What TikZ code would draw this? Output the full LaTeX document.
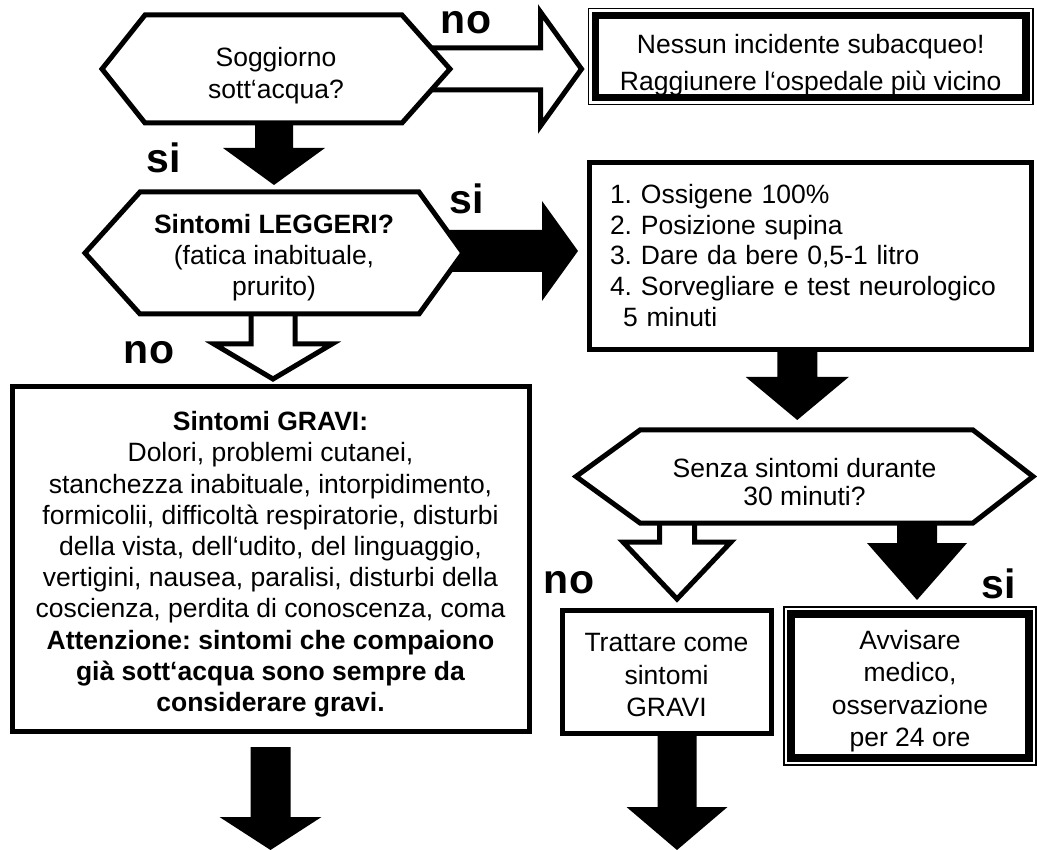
\documentclass[tikz,border=0pt]{standalone}
\usepackage{fontspec}
\setmainfont{Liberation Sans}
\usetikzlibrary{calc}
\pgfdeclarelayer{arrows}
\pgfdeclarelayer{shapes}
\pgfsetlayers{arrows,shapes,main}

% struts for the first and the last line of a node text
\newcommand{\topst}[1]{\rule{0pt}{#1}}
\newcommand{\botst}[1]{\rule[-#1]{0pt}{#1}}
% hexagon round a node: #2 left and #3 right slant
\newcommand{\hexa}[3]{\draw[hexline] (#1.west) -- ([xshift=#2]#1.north west) -- ([xshift=-#3]#1.north east) -- (#1.east) -- ([xshift=-#3]#1.south east) -- ([xshift=#2]#1.south west) -- cycle;}
% block arrows: style, from, to, half shaft, half head, head length
\newcommand{\blockdown}[6]{\path[#1] let \p1=(#2), \p2=(#3) in (\x1-#4,\y1) -- (\x1-#4,\y2+#6) -- (\x1-#5,\y2+#6) -- (\x1,\y2) -- (\x1+#5,\y2+#6) -- (\x1+#4,\y2+#6) -- (\x1+#4,\y1) -- cycle;}
\newcommand{\blockright}[6]{\path[#1] let \p1=(#2), \p2=(#3) in (\x1,\y1+#4) -- (\x2-#6,\y1+#4) -- (\x2-#6,\y1+#5) -- (\x2,\y1) -- (\x2-#6,\y1-#5) -- (\x2-#6,\y1-#4) -- (\x1,\y1-#4) -- cycle;}
\newcommand{\outerframe}[1]{\draw[line width=1.5pt] ([xshift=-7pt,yshift=7pt]#1.north west) rectangle ([xshift=7pt,yshift=-7pt]#1.south east);}

\begin{document}
\begin{tikzpicture}[x=1pt, y=-1pt,
  hexbox/.style={rectangle, inner sep=0pt, outer sep=0pt, align=center},
  boxnode/.style={draw, line width=5pt, fill=white, inner sep=0pt, outer sep=0pt, align=center},
  dblbox/.style={boxnode, line width=7.5pt},
  txt/.style={font=\fontsize{26.5pt}{#1}\selectfont\frenchspacing},
  lbl/.style={font=\fontsize{41pt}{41pt}\selectfont\bfseries, anchor=base, inner sep=0pt},
  hexline/.style={draw, line width=5pt, fill=white, line join=miter},
  fullarr/.style={fill=black},
  openarr/.style={draw, line width=5pt, fill=white, line join=miter}]

  \useasboundingbox (0,0) rectangle (1037,850);

  % questions
  \node[hexbox, txt=32pt, minimum width=348pt, minimum height=108pt] (q1) at (276,69) {\topst{35pt}Soggiorno\\sott‘acqua?\botst{7pt}};
  \node[hexbox, txt=31pt, minimum width=378pt, minimum height=122pt] (q2) at (274,253) {\topst{31pt}\textbf{Sintomi LEGGERI?}\\(fatica inabituale,\\prurito)\botst{7pt}};
  \node[hexbox, txt=28pt, minimum width=457pt, minimum height=93pt] (q3) at (804.5,476.5) {\topst{37pt}Senza sintomi durante\\30 minuti?\botst{7pt}};

  % boxes
  \node[dblbox, txt=37pt, minimum width=430.5pt, minimum height=79.5pt] (n1) at (810.75,56.75) {\topst{38pt}Nessun incidente subacqueo!\\Raggiunere l‘ospedale più vicino\botst{7pt}};
  \node[boxnode, txt=30.75pt, align=left, text width=400.5pt, minimum width=441.5pt, minimum height=187pt] (a1) at (810.25,256) {\topst{26pt}1. Ossigene 100\%\\2. Posizione supina\\3. Dare da bere 0,5-1 litro\\4. Sorvegliare e test neurologico\\\hspace*{13pt}5 minuti\botst{8.3pt}};
  \node[boxnode, txt=31.2pt, minimum width=517pt, minimum height=344pt] (g1) at (270.5,559) {\topst{31pt}\textbf{Sintomi GRAVI:}\\Dolori, problemi cutanei,\\stanchezza inabituale, intorpidimento,\\formicolii, difficoltà respiratorie, disturbi\\della vista, dell‘udito, del linguaggio,\\vertigini, nausea, paralisi, disturbi della\\coscienza, perdita di conoscenza, coma\\\textbf{Attenzione: sintomi che compaiono}\\\textbf{già sott‘acqua sono sempre da}\\\textbf{considerare gravi.}\botst{7pt}};
  \node[boxnode, txt=32.5pt, minimum width=209pt, minimum height=123pt] (t1) at (666.5,671.5) {\topst{32pt}Trattare come\\sintomi\\GRAVI\botst{7pt}};
  \node[dblbox, txt=32.3pt, minimum width=238pt, minimum height=144pt] (m1) at (910,686) {\topst{31pt}Avvisare\\medico,\\osservazione\\per 24 ore\botst{7pt}};
  \outerframe{n1}
  \outerframe{m1}

  \coordinate (end1) at (677,850);
  \coordinate (end2) at (270,850);

  \begin{pgfonlayer}{shapes}
    \hexa{q1}{43pt}{48pt}
    \hexa{q2}{55pt}{44pt}
    \hexa{q3}{64pt}{60pt}
  \end{pgfonlayer}

  \begin{pgfonlayer}{arrows}
    \blockdown{fullarr}{[xshift=-2pt]q1.south}{[yshift=7pt]q2.north}{19pt}{51pt}{37pt}
    \blockright{openarr}{[xshift=-30pt]q1.east}{[xshift=-14pt]n1.west}{21pt}{57pt}{41pt}
    \blockright{fullarr}{[xshift=-25pt,yshift=2pt]q2.east}{[xshift=-11.5pt]a1.west}{21pt}{50pt}{36pt}
    \blockdown{openarr}{[xshift=-1pt,yshift=10pt]q2.south}{[yshift=8pt]g1.north}{22pt}{59pt}{35pt}
    \blockdown{fullarr}{[xshift=-13pt]a1.south}{[yshift=10pt]q3.north}{20pt}{51.5pt}{43pt}
    \blockdown{openarr}{[xshift=-127.5pt,yshift=10pt]q3.south}{[yshift=11pt]t1.north}{17.5pt}{54pt}{57pt}
    \blockdown{fullarr}{[xshift=112.5pt]q3.south}{[yshift=14pt]m1.north}{20pt}{50pt}{57pt}
    \blockdown{fullarr}{[xshift=10.5pt]t1.south}{end1}{19.5pt}{50.5pt}{43pt}
    \blockdown{fullarr}{[yshift=-16pt]g1.south}{end2}{20pt}{51pt}{33pt}
  \end{pgfonlayer}

  % answers
  \node[lbl] (no1) at (466,34) {no};
  \node[lbl] (si1) at (163.5,173) {si};
  \node[lbl] (si2) at (467,214) {si};
  \node[lbl] (no2) at (149,364) {no};
  \node[lbl] (no3) at (569,593) {no};
  \node[lbl] (si3) at (999,598) {si};
\end{tikzpicture}
\end{document}
